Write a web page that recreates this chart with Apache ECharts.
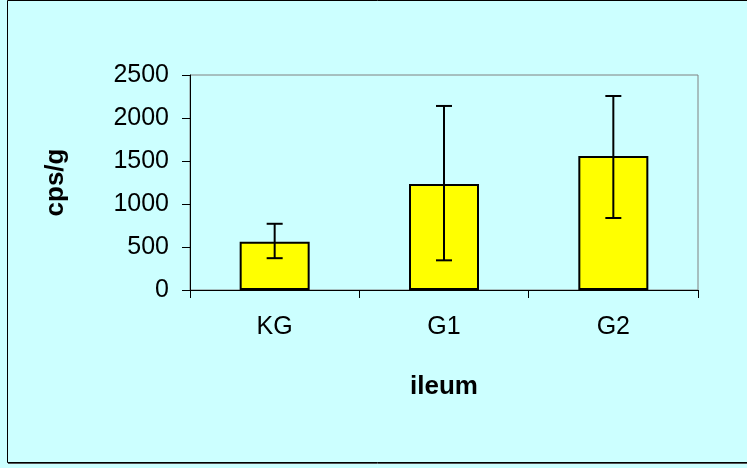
<!DOCTYPE html>
<html>
<head>
<meta charset="utf-8">
<script src="https://cdn.jsdelivr.net/npm/echarts@6/dist/echarts.min.js"></script>
<style>
html,body{margin:0;padding:0;background:#CCFFFF;}
#main{width:747px;height:468px;}
</style>
</head>
<body>
<div id="main"></div>
<script>
const categories = ['KG', 'G1', 'G2'];
const means = [562, 1233, 1558];
const errLow = [370, 345, 837];
const errHigh = [770, 2140, 2256];
const yTicks = [0, 500, 1000, 1500, 2000, 2500];

const chart = echarts.init(document.getElementById('main'));
const font = 'Arial, "Liberation Sans", sans-serif';
chart.setOption({
  animation: false,
  backgroundColor: '#CCFFFF',
  graphic: [{
    type: 'rect',
    shape: {x: 7.5, y: 0.5, width: 760, height: 462},
    style: {fill: 'none', stroke: '#000', lineWidth: 1},
    silent: true
  }, {
    type: 'line',
    shape: {x1: 8, y1: 463.5, x2: 747, y2: 463.5},
    style: {stroke: '#555', lineWidth: 1},
    silent: true
  }],
  grid: {
    left: 190, top: 75, right: 49, bottom: 178,
    show: true, borderColor: '#808080', borderWidth: 1, backgroundColor: 'transparent'
  },
  xAxis: {
    type: 'category',
    data: categories,
    boundaryGap: true,
    axisLine: {lineStyle: {color: '#000', width: 1}},
    axisTick: {show: true, length: 8, lineStyle: {color: '#000'}, alignWithLabel: false},
    axisLabel: {color: '#000', fontSize: 25, fontFamily: font, margin: 25},
    name: 'ileum',
    nameLocation: 'middle',
    nameGap: 84,
    nameTextStyle: {color: '#000', fontSize: 26, fontWeight: 'bold', fontFamily: font}
  },
  yAxis: {
    type: 'value',
    min: 0, max: 2500, interval: 500,
    splitLine: {show: false},
    axisLine: {show: true, lineStyle: {color: '#000', width: 1}},
    axisTick: {show: true, length: 8, lineStyle: {color: '#000'}},
    axisLabel: {color: '#000', fontSize: 25, fontFamily: font, margin: 21,
      formatter: function (v) { return String(v); }},
    name: 'cps/g',
    nameLocation: 'middle',
    nameRotate: 90,
    nameGap: 121,
    nameTextStyle: {color: '#000', fontSize: 26, fontWeight: 'bold', fontFamily: font}
  },
  series: [{
    type: 'bar',
    data: means,
    barWidth: 70,
    itemStyle: {color: '#FFFF00', borderColor: '#000', borderWidth: 2}
  }, {
    type: 'custom',
    data: categories.map((c, i) => [i, errLow[i], errHigh[i]]),
    encode: {x: 0, y: [1, 2]},
    renderItem: function (params, api) {
      const i = api.value(0);
      const lo = api.coord([i, api.value(1)]);
      const hi = api.coord([i, api.value(2)]);
      const w = 8;
      const st = {stroke: '#000', lineWidth: 2, fill: null};
      return {
        type: 'group',
        children: [
          {type: 'line', shape: {x1: lo[0], y1: lo[1], x2: hi[0], y2: hi[1]}, style: st},
          {type: 'line', shape: {x1: lo[0] - w, y1: lo[1], x2: lo[0] + w, y2: lo[1]}, style: st},
          {type: 'line', shape: {x1: hi[0] - w, y1: hi[1], x2: hi[0] + w, y2: hi[1]}, style: st}
        ]
      };
    },
    z: 5
  }]
});
</script>
</body>
</html>
